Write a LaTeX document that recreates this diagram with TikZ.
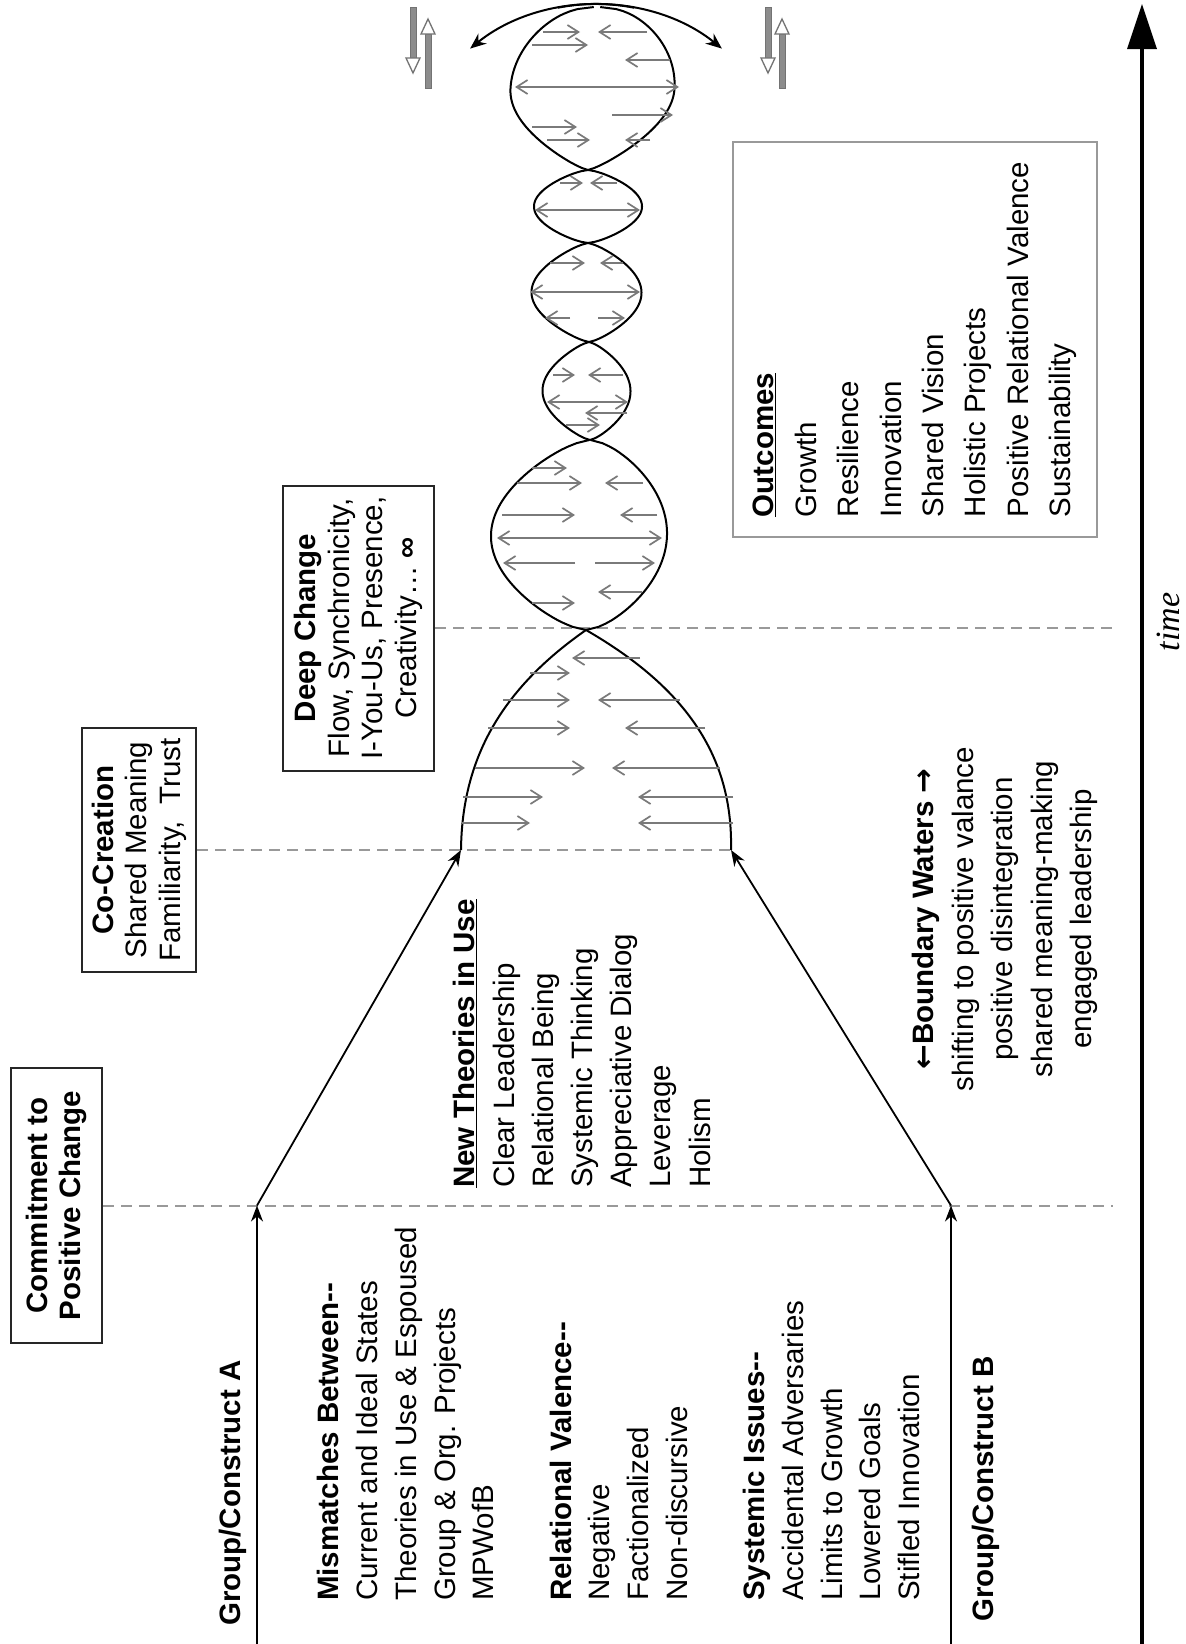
\documentclass[tikz,border=0pt]{standalone}
\usepackage{fontspec}
\setmainfont{Liberation Sans}
\newfontfamily\serifit{Liberation Serif}
\newfontfamily\arrowfont{DejaVu Sans}
\usetikzlibrary{arrows.meta}

\begin{document}
\begin{tikzpicture}[x=1pt, y=-1pt,
  lbl/.style={rotate=90, inner sep=0pt, align=left, font=\fontsize{29.5}{38.7}\selectfont},
  boxlbl/.style={rotate=90, draw=black!85, line width=2pt, inner sep=0pt, align=center, font=\fontsize{29.5}{33.5}\selectfont},
  guide/.style={draw=black!40, line width=2pt, dash pattern=on 11pt off 7pt},
  flow/.style={draw=black, line width=1.8pt, -{Stealth[length=16pt,width=12pt]}},
  strand/.style={draw=black, line width=2pt},
  rung/.style={draw=black!52, line width=1.7pt, -{Straight Barb[length=11pt,width=14pt]}},
  rungboth/.style={draw=black!52, line width=1.7pt, {Straight Barb[length=11pt,width=14pt]}-{Straight Barb[length=11pt,width=14pt]}},
  shaft/.style={fill=black!45, draw=black!55, line width=0.8pt},
  head/.style={fill=white, draw=black!55, line width=1.3pt, line join=miter},
]
\fill[white] (0,0) rectangle (1186,1644);
\useasboundingbox (0,0) rectangle (1186,1644);

% ---------- time axis ----------
\coordinate (t0) at (1142,1644);
\coordinate (t1) at (1142,4);
\draw[line width=3.5pt, -{Triangle[length=45pt,width=29pt]}] (t0) -- (t1);
\node[rotate=90, inner sep=0pt, font=\serifit\itshape\fontsize{34}{40}\selectfont] (timelbl) at (1168,622) {time};

% ---------- stage boxes ----------
\node[boxlbl, minimum width=275pt, minimum height=91pt] (commit) at (56.5,1205.5)
  {\textbf{Commitment to}\\\textbf{Positive Change}};
\node[boxlbl, minimum width=244pt, minimum height=114pt] (cocreate) at (139,850)
  {\textbf{Co-Creation}\\Shared Meaning\\Familiarity,\ \ Trust};
\node[boxlbl, minimum width=285pt, minimum height=151pt] (deep) at (358.5,628)
  {\textbf{Deep Change}\\Flow, Synchronicity,\\I-You-Us, Presence,\\Creativity\ldots\ \textbf{∞}};
\node[rotate=90, draw=black!40, line width=2.5pt, inner sep=0pt, align=left,
      font=\fontsize{29.5}{42.4}\selectfont, minimum width=395pt, minimum height=364pt] (outcomes) at (915,339.5)
  {\underline{\textbf{Outcomes}}\\Growth\\Resilience\\Innovation\\Shared Vision\\Holistic Projects\\Positive Relational Valence\\Sustainability};

% ---------- stage guide lines ----------
\coordinate (d1end) at (1113,1205.5);
\coordinate (d3end) at (1113,628);
\coordinate (helixL) at (461,850);
\coordinate (helixR) at (731,850);
\draw[guide] (commit.south) -- (d1end);
\draw[guide] (cocreate.south) -- (helixR);
\draw[guide] (deep.south) -- (d3end);

% ---------- group paths ----------
\coordinate (baseA) at (257,1644);
\coordinate (joinA) at (257,1205.5);
\coordinate (baseB) at (951,1644);
\coordinate (joinB) at (951,1205.5);
\draw[flow] (baseA) -- (joinA);
\draw[flow] (joinA) -- (helixL);
\draw[flow] (baseB) -- (joinB);
\draw[flow] (joinB) -- (helixR);

% ---------- text blocks ----------
\node[lbl, anchor=north west, font=\bfseries\fontsize{29.5}{38.7}\selectfont] (grpA) at (219.4,1626) {Group/Construct A};
\node[lbl, anchor=north west, font=\bfseries\fontsize{29.5}{38.7}\selectfont] (grpB) at (972.4,1622) {Group/Construct B};
\node[lbl, anchor=north west] (issues) at (317.4,1601)
  {\textbf{Mismatches Between-{}-}\\Current and Ideal States\\Theories in Use \& Espoused\\Group \& Org. Projects\\MPWofB\\[38.7pt]
   \textbf{Relational Valence-{}-}\\Negative\\Factionalized\\Non-discursive\\[38.7pt]
   \textbf{Systemic Issues-{}-}\\Accidental Adversaries\\Limits to Growth\\Lowered Goals\\Stifled Innovation};
\node[lbl, anchor=north west, font=\fontsize{29.5}{39.2}\selectfont] (theories) at (453.4,1188)
  {\underline{\textbf{New Theories in Use}}\\Clear Leadership\\Relational Being\\Systemic Thinking\\Appreciative Dialog\\Leverage\\Holism};
\node[lbl, anchor=north, align=center, font=\fontsize{29.5}{39.5}\selectfont] (boundary) at (912.4,919)
  {\textbf{{\arrowfont ←}Boundary Waters {\arrowfont →}}\\shifting to positive valance\\positive disintegration\\shared meaning-making\\engaged leadership};

% ---------- helix ----------
\coordinate (cross1) at (586,630);
\draw[strand] (helixL) .. controls (462,760) and (500,690) .. (cross1);
\draw[strand] (helixR) .. controls (733,760) and (690,690) .. (cross1);
\foreach \ya/\yz/\ca/\cz/\hw/\sh/\pw in {630/440/586/590/88/-9/0.65, 440/342/590/589/44/-3/0.75,
                                          342/243/589/588/55/-2/0.75, 243/170/588/588/54/0/0.7}{
  \draw[strand] plot[domain=0:1, samples=61, variable=\u]
    ({\ca+(\cz-\ca)*\u+(\sh)*sin(180*\u)-\hw*pow(max(sin(180*\u),0.00001),\pw)}, {\ya-(\ya-\yz)*\u});
  \draw[strand] plot[domain=0:1, samples=61, variable=\u]
    ({\ca+(\cz-\ca)*\u+(\sh)*sin(180*\u)+\hw*pow(max(sin(180*\u),0.00001),\pw)}, {\ya-(\ya-\yz)*\u});
}
\draw[strand] plot[domain=0:1, samples=81, variable=\u]
  ({588+9*\u-82*pow(max(sin(180*\u),0.00001),ifthenelse(\u<0.5,0.8,0.45))}, {170-163*\u});
\draw[strand] plot[domain=0:1, samples=81, variable=\u]
  ({588+9*\u+82*pow(max(sin(180*\u),0.00001),ifthenelse(\u<0.5,0.8,0.45))}, {170-163*\u});

% turning arrows at the top
\coordinate (arcLa) at (634.2,7.7);
\coordinate (arcLb) at (470.1,48.6);
\coordinate (arcRa) at (557.8,7.7);
\coordinate (arcRb) at (721.9,48.6);
\draw[strand, -{Stealth[length=16pt,width=13pt]}] (arcLa) .. controls (576.2,-3.6) and (516,11.4) .. (arcLb);
\draw[strand, -{Stealth[length=16pt,width=13pt]}] (arcRa) .. controls (615.8,-3.6) and (676,11.4) .. (arcRb);

% rungs
\foreach \xa/\xb/\yy in {
  640/572/658, 530/570/673, 503/570/700, 680/598/700, 488/570/728, 705/625/728,
  475/585/768, 720/612/768, 463/543/797, 733/638/797, 462/530/823, 733/638/823,
  532/567/468, 517/582/483, 643/605/483, 502/575/515, 657/620/515,
  575/503/563, 595/655/563, 642/598/592, 532/575/603,
  553/575/375, 623/588/375, 627/585/413, 566/600/425,
  550/585/263, 623/600/263, 570/545/318, 598/625/318,
  560/583/183, 617/590/183,
  543/580/32, 647/598/32, 532/588/45, 670/625/60, 612/673/115, 532/577/127, 547/590/140, 650/625/140}
  \draw[rung] (\xa,\yy) -- (\xb,\yy);
\foreach \xa/\xb/\yy in {497/662/538, 547/628/402, 530/640/292, 535/640/210, 515/679/87}
  \draw[rungboth] (\xa,\yy) -- (\xb,\yy);

% ---------- paired block arrows ----------
\foreach \xd/\xu in {413/428, 768/782}{
  \draw[shaft] (\xd-3,7) rectangle (\xd+3,58);
  \draw[head] (\xd-7,58) -- (\xd+7,58) -- (\xd,73) -- cycle;
  \draw[shaft] (\xu-3,34) rectangle (\xu+3,88);
  \draw[head] (\xu-7,34) -- (\xu+7,34) -- (\xu,19) -- cycle;
}
\end{tikzpicture}
\end{document}
